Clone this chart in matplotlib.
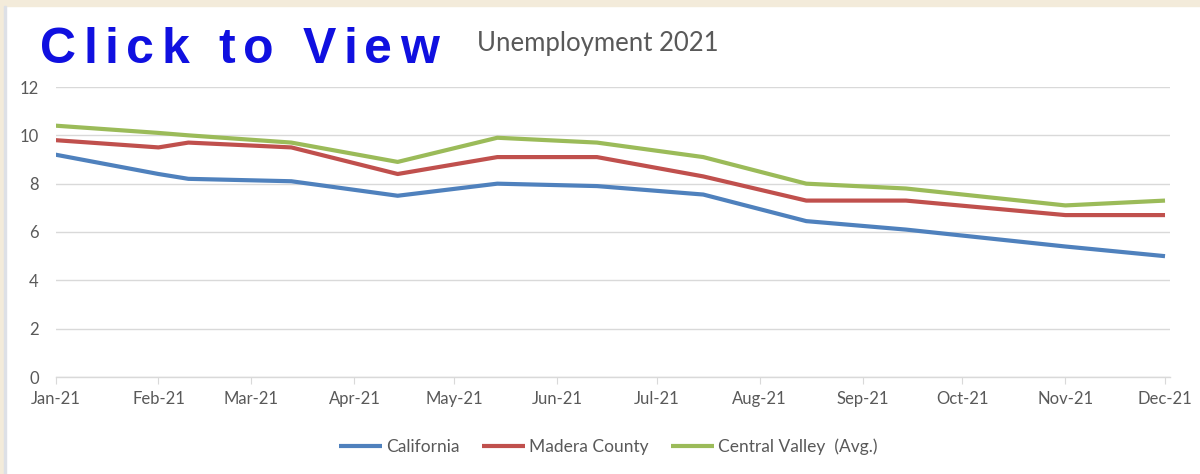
import matplotlib.pyplot as plt
import matplotlib.dates as mdates
from matplotlib.patches import Rectangle
import numpy as np
import datetime as dt

# Data (monthly unemployment rate, %)
dates = ['2021-01-01', '2021-02-01', '2021-02-10', '2021-03-13', '2021-04-14',
         '2021-05-14', '2021-06-13', '2021-07-15', '2021-08-15', '2021-09-14',
         '2021-11-01', '2021-12-01']
california = [9.2, 8.4, 8.2, 8.1, 7.5, 8.0, 7.9, 7.55, 6.45, 6.1, 5.4, 5.0]
madera = [9.8, 9.5, 9.7, 9.5, 8.4, 9.1, 9.1, 8.3, 7.3, 7.3, 6.7, 6.7]
central_valley = [10.4, 10.1, 10.0, 9.7, 8.9, 9.9, 9.7, 9.1, 8.0, 7.8, 7.1, 7.3]
series_names = ['California', 'Madera County', 'Central Valley  (Avg.)']
y_ticks = [0, 2, 4, 6, 8, 10, 12]

x = np.array(dates, dtype='datetime64[D]')
colors = ['#4F81BD', '#C0504D', '#9BBB59']
grey = '#595959'
plt.rcParams['font.family'] = ['Lato', 'DejaVu Sans']

fig = plt.figure(figsize=(12, 4.74), dpi=100)
fig.patch.set_facecolor('white')

# beige frame strips at top and left
fig.add_artist(Rectangle((0, 1 - 6 / 474), 1, 6 / 474, transform=fig.transFigure,
                         color='#F3EBDA', zorder=0))
fig.add_artist(Rectangle((0, 0), 4 / 1200, 1, transform=fig.transFigure,
                         color='#F3EBDA', zorder=0))
fig.add_artist(Rectangle((4 / 1200, 0), 1.5 / 1200, 1 - 6 / 474, transform=fig.transFigure,
                         color='#DDE0E6', zorder=0))

ax = fig.add_axes([55.5 / 1200, 1 - 377 / 474, (1170 - 55.5) / 1200, (377 - 87) / 474])
for vals, c, name in zip([california, madera, central_valley], colors, series_names):
    ax.plot(x, vals, color=c, linewidth=3, label=name, solid_capstyle='butt',
            solid_joinstyle='round')

ax.set_ylim(0, 12)
ax.set_yticks(y_ticks)
ax.set_xlim(dt.datetime(2021, 1, 1), dt.datetime(2021, 12, 2, 12))
ax.xaxis.set_major_locator(mdates.MonthLocator())
ax.xaxis.set_major_formatter(mdates.DateFormatter('%b-%y'))

ax.grid(axis='y', color='#D9D9D9', linewidth=1)
ax.set_axisbelow(True)
for s in ['top', 'right', 'left']:
    ax.spines[s].set_visible(False)
ax.spines['bottom'].set_color('#D9D9D9')
ax.spines['bottom'].set_linewidth(1)
ax.tick_params(axis='y', length=0, pad=12, labelsize=12, labelcolor=grey)
ax.tick_params(axis='x', length=5, color='#D9D9D9', pad=5, labelsize=12, labelcolor=grey)

# "Click to View" with wide letter spacing, placed char by char
renderer = fig.canvas.get_renderer()
title = 'Click to View'
fp = dict(fontsize=36, fontweight='bold', color='#1010E0', family='Liberation Sans')
xpos = 40
for ch in title:
    t = fig.text(xpos / 1200, 1 - 63 / 474, ch, ha='left', va='baseline', **fp)
    w = t.get_window_extent(renderer).width if ch != ' ' else 14
    xpos += w + 7.5

fig.text(477 / 1200, 1 - 51 / 474, 'Unemployment 2021', fontsize=18.5, color=grey,
         ha='left', va='baseline')

fig.legend(loc='center', bbox_to_anchor=(608 / 1200, 1 - 447 / 474), ncol=3,
           frameon=False, fontsize=12.5, handlelength=2.5, handletextpad=0.2,
           columnspacing=1.3, labelcolor=grey)

fig.savefig('out.png', dpi=100)
